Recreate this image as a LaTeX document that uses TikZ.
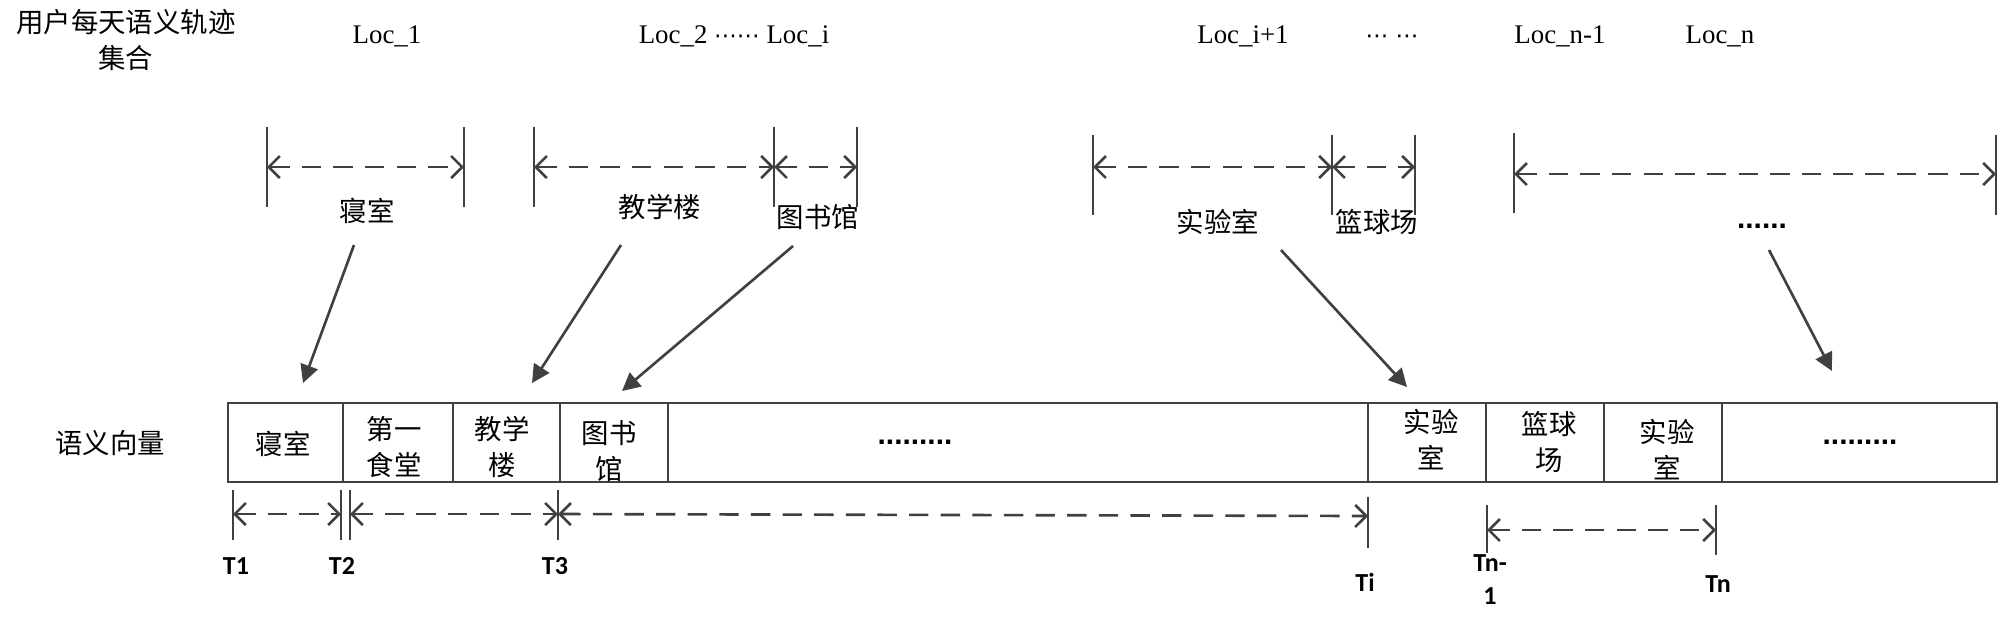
\documentclass[tikz,border=0pt]{standalone}
\usepackage{fontspec}
\setmainfont{Liberation Serif}
\newfontfamily\zhfont{Noto Sans CJK SC}
\newfontfamily\tfont{Carlito}
\newfontfamily\dotfont{Liberation Sans}
\newfontfamily\symfont{DejaVu Sans}
\usetikzlibrary{arrows.meta}
\definecolor{linegray}{HTML}{404040}
\begin{document}
\begin{tikzpicture}[x=0.02cm,y=-0.02cm,
 ln/.style={draw=linegray,line width=1.5pt},
 bar/.style={ln},
 dim/.style={ln,dash pattern=on 11pt off 7pt,{Straight Barb[length=0.22cm,width=0.44cm]}-{Straight Barb[length=0.22cm,width=0.44cm]}},
 ptr/.style={ln,-{Triangle[length=0.36cm,width=0.36cm]}},
 zh/.style={font=\zhfont\fontsize{15.6pt}{20.5pt}\selectfont,inner sep=0pt,align=center},
 loc/.style={font=\fontsize{15.3pt}{19pt}\selectfont,inner sep=0pt,anchor=base},
 tl/.style={font=\tfont\bfseries\fontsize{14.8pt}{18.8pt}\selectfont,inner sep=0pt,align=center},
 dotl/.style={font=\dotfont\bfseries\fontsize{17pt}{20pt}\selectfont,inner sep=0pt,anchor=base},
 cell/.style={draw=linegray,line width=1.5pt,minimum height=1.58cm,inner sep=0pt},
]
\useasboundingbox (0,0) rectangle (2000,627);

% ---------- top labels ----------
\node[zh] (title) at (126,40) {用户每天语义轨迹\\集合};
\node[loc] (l1) at (387,43) {Loc\_1};
\node[loc] (l2) at (734,43) {Loc\_2 {\symfont\fontsize{13pt}{15pt}\selectfont ⋯⋯} Loc\_i};
\node[loc] (l3) at (1243,43) {Loc\_i+1};
\node[loc] (l4) at (1392,43) {{\symfont\fontsize{13pt}{15pt}\selectfont ⋯ ⋯}};
\node[loc] (l5) at (1560,43) {Loc\_n-1};
\node[loc] (l6) at (1720,43) {Loc\_n};

% ---------- interval bars (top) ----------
\coordinate (p1t) at (267,127);  \coordinate (p1b) at (267,207);  \coordinate (p1m) at (267,167);
\coordinate (p2t) at (464,127);  \coordinate (p2b) at (464,207);  \coordinate (p2m) at (464,167);
\coordinate (p3t) at (534,127);  \coordinate (p3b) at (534,207);  \coordinate (p3m) at (534,167);
\coordinate (p4t) at (774,127);  \coordinate (p4b) at (774,207);  \coordinate (p4m) at (774,167);
\coordinate (p5t) at (857,127);  \coordinate (p5b) at (857,207);  \coordinate (p5m) at (857,167);
\coordinate (p6t) at (1093,135); \coordinate (p6b) at (1093,215); \coordinate (p6m) at (1093,167);
\coordinate (p7t) at (1332,135); \coordinate (p7b) at (1332,215); \coordinate (p7m) at (1332,167);
\coordinate (p8t) at (1415,135); \coordinate (p8b) at (1415,215); \coordinate (p8m) at (1415,167);
\coordinate (p9t) at (1514,133); \coordinate (p9b) at (1514,213); \coordinate (p9m) at (1514,174);
\coordinate (p10t) at (1996,135); \coordinate (p10b) at (1996,215); \coordinate (p10m) at (1996,174);
\foreach \i in {1,...,10} { \draw[bar] (p\i t) -- (p\i b); }
\draw[dim] (p1m) -- (p2m);
\draw[dim] (p3m) -- (p4m);
\draw[dim] (p4m) -- (p5m);
\draw[dim] (p6m) -- (p7m);
\draw[dim] (p7m) -- (p8m);
\draw[dim] (p9m) -- (p10m);

% ---------- place labels ----------
\node[zh] (g1) at (367,211) {寝室};
\node[zh] (g2) at (660,207) {教学楼};
\node[zh] (g3) at (818,217) {图书馆};
\node[zh] (g4) at (1218,222) {实验室};
\node[zh] (g5) at (1377,222) {篮球场};
\node[dotl] (g6) at (1762,228) {......};

% ---------- pointers ----------
\coordinate (a1s) at (354,245);  \coordinate (a1e) at (303,383);
\coordinate (a2s) at (621,245);  \coordinate (a2e) at (532,383);
\coordinate (a3s) at (793,246);  \coordinate (a3e) at (622,391);
\coordinate (a4s) at (1281,250); \coordinate (a4e) at (1407,387);
\coordinate (a5s) at (1769,250); \coordinate (a5e) at (1832,371);
\draw[ptr] (a1s) -- (a1e);
\draw[ptr] (a2s) -- (a2e);
\draw[ptr] (a3s) -- (a3e);
\draw[ptr] (a4s) -- (a4e);
\draw[ptr] (a5s) -- (a5e);

% ---------- semantic vector ----------
\node[zh] (vlab) at (110,443) {语义向量};
\node[cell,minimum width=2.30cm] (c1) at (285.5,442.5) {};
\node[cell,minimum width=2.20cm] (c2) at (398,442.5) {};
\node[cell,minimum width=2.14cm] (c3) at (506.5,442.5) {};
\node[cell,minimum width=2.16cm] (c4) at (614,442.5) {};
\node[cell,minimum width=14.00cm] (c5) at (1018,442.5) {};
\node[cell,minimum width=2.36cm] (c6) at (1427,442.5) {};
\node[cell,minimum width=2.36cm] (c7) at (1545,442.5) {};
\node[cell,minimum width=2.36cm] (c8) at (1663,442.5) {};
\node[cell,minimum width=5.50cm] (c9) at (1859.5,442.5) {};
\node[zh] (v1) at (283,444) {寝室};
\node[zh] (v2) at (394,446.5) {第一\\食堂};
\node[zh] (v3) at (502,446.5) {教学\\楼};
\node[zh] (v4) at (609,451) {图书\\馆};
\node[dotl] (v5) at (915,444) {.........};
\node[zh] (v6) at (1431,439.5) {实验\\室};
\node[zh] (v7) at (1549,442) {篮球\\场};
\node[zh] (v8) at (1667,449.5) {实验\\室};
\node[dotl] (v9) at (1860,444) {.........};

% ---------- time bars ----------
\coordinate (q1t) at (233,490);  \coordinate (q1b) at (233,540);  \coordinate (q1m) at (233,514);
\coordinate (q2t) at (341,490);  \coordinate (q2b) at (341,540);  \coordinate (q2m) at (341,514);
\coordinate (q3t) at (350,490);  \coordinate (q3b) at (350,540);  \coordinate (q3m) at (350,514);
\coordinate (q4t) at (558,490);  \coordinate (q4b) at (558,540);  \coordinate (q4m) at (558,514);
\coordinate (q5t) at (1368,497); \coordinate (q5b) at (1368,548); \coordinate (q5m) at (1368,516);
\coordinate (q6t) at (1487,505); \coordinate (q6b) at (1487,553); \coordinate (q6m) at (1487,530);
\coordinate (q7t) at (1716,505); \coordinate (q7b) at (1716,555); \coordinate (q7m) at (1716,530);
\foreach \i in {1,...,7} { \draw[bar] (q\i t) -- (q\i b); }
\draw[dim] (q1m) -- (q2m);
\draw[dim] (q3m) -- (q4m);
\draw[dim] (q4m) -- (q5m);
\draw[dim] (q6m) -- (q7m);

\node[tl] (T1) at (236,566) {T1};
\node[tl] (T2) at (342,566) {T2};
\node[tl] (T3) at (555,566) {T3};
\node[tl] (Ti) at (1365,582) {Ti};
\node[tl] (Tn1) at (1490,580) {Tn-\\1};
\node[tl] (Tn) at (1718,584) {Tn};
\end{tikzpicture}
\end{document}
